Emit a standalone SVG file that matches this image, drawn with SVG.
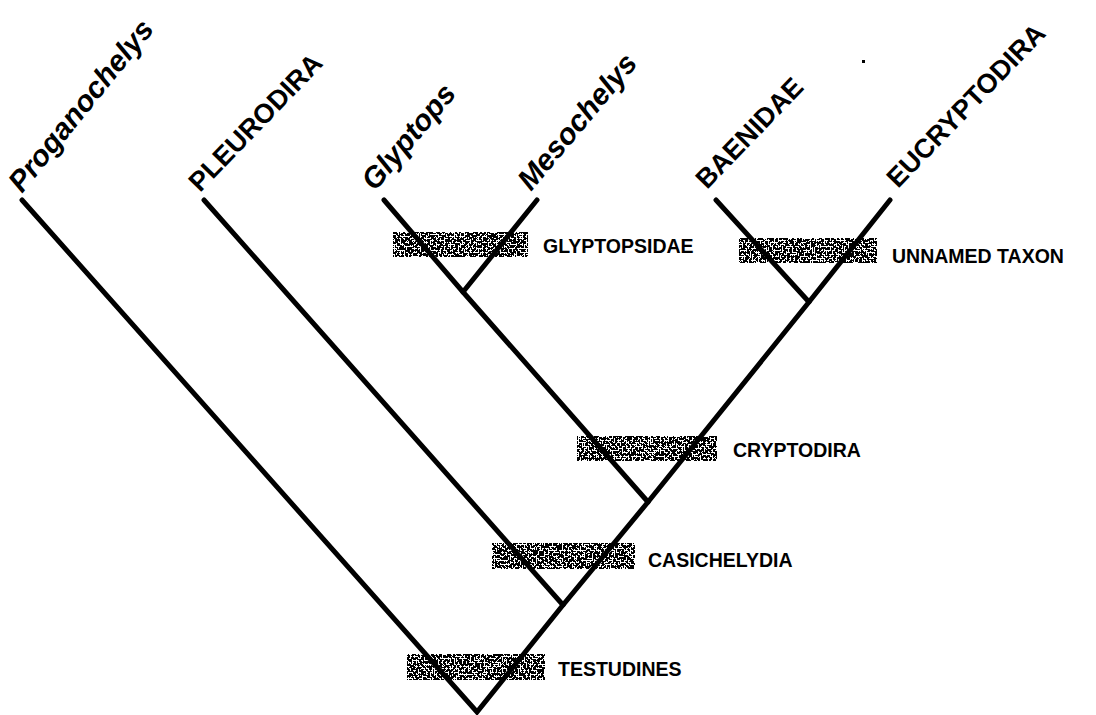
<svg xmlns="http://www.w3.org/2000/svg" width="1096" height="715" viewBox="0 0 1096 715">
<defs>
<filter id="stipple" x="0" y="0" width="100%" height="100%" color-interpolation-filters="sRGB">
<feTurbulence type="fractalNoise" baseFrequency="0.5" numOctaves="2" seed="7" result="n"/>
<feColorMatrix in="n" type="matrix" values="0 0 0 0 0  0 0 0 0 0  0 0 0 0 0  1 0 0 0 0" result="a"/>
<feComponentTransfer in="a" result="t"><feFuncA type="discrete" tableValues="0 0 0 0 0 0 1 1 1 1 1 1"/></feComponentTransfer>
<feComposite in="t" in2="SourceAlpha" operator="in"/>
</filter>
<style>
.br{fill:none;stroke:#000;stroke-width:5;stroke-linecap:round;stroke-linejoin:miter}
.tip{font-family:"Liberation Sans",Arial,sans-serif;font-weight:bold;font-size:27px;fill:#000}
.it{font-style:italic;font-size:29.5px}
.lab{font-family:"Liberation Sans",Arial,sans-serif;font-weight:bold;font-size:19.5px;fill:#000}
.bar{fill:#000;filter:url(#stipple)}
</style>
</defs>
<rect width="1096" height="715" fill="#fff"/>

<g id="clade-glyptopsidae">
<rect class="bar" x="393" y="232" width="135" height="25"/>
<text class="lab" x="543" y="253">GLYPTOPSIDAE</text>
</g>
<g id="clade-unnamed">
<rect class="bar" x="739" y="238" width="138" height="25"/>
<text class="lab" x="892" y="263">UNNAMED TAXON</text>
</g>
<g id="clade-cryptodira">
<rect class="bar" x="577" y="436" width="140" height="25"/>
<text class="lab" x="733" y="457">CRYPTODIRA</text>
</g>
<g id="clade-casichelydia">
<rect class="bar" x="492" y="543" width="143" height="26"/>
<text class="lab" x="648" y="567">CASICHELYDIA</text>
</g>
<g id="clade-testudines">
<rect class="bar" x="407" y="654" width="138" height="26"/>
<text class="lab" x="558" y="676">TESTUDINES</text>
</g>

<g id="connectors">
<polyline class="br" points="22,200 477,712 563,605 648,502 809,302 890,200"/>
<line class="br" x1="563" y1="605" x2="204" y2="200"/>
<polyline class="br" points="648,502 463,292 384,200"/>
<line class="br" x1="463" y1="292" x2="537" y2="200"/>
<line class="br" x1="809" y1="302" x2="716" y2="200"/>
</g>

<g id="taxon-proganochelys"><text class="tip it" transform="translate(22,194) rotate(-51)">Proganochelys</text></g>
<g id="taxon-pleurodira"><text class="tip" transform="translate(200,193) rotate(-46)">PLEURODIRA</text></g>
<g id="taxon-glyptops"><text class="tip it" transform="translate(375,192) rotate(-50)">Glyptops</text></g>
<g id="taxon-mesochelys"><text class="tip it" transform="translate(531,192) rotate(-50)">Mesochelys</text></g>
<g id="taxon-baenidae"><text class="tip" transform="translate(707,190) rotate(-46)">BAENIDAE</text></g>
<g id="taxon-eucryptodira"><text class="tip" transform="translate(898,189) rotate(-46)">EUCRYPTODIRA</text></g>

<rect x="862" y="60" width="3" height="3" fill="#000"/>
</svg>
